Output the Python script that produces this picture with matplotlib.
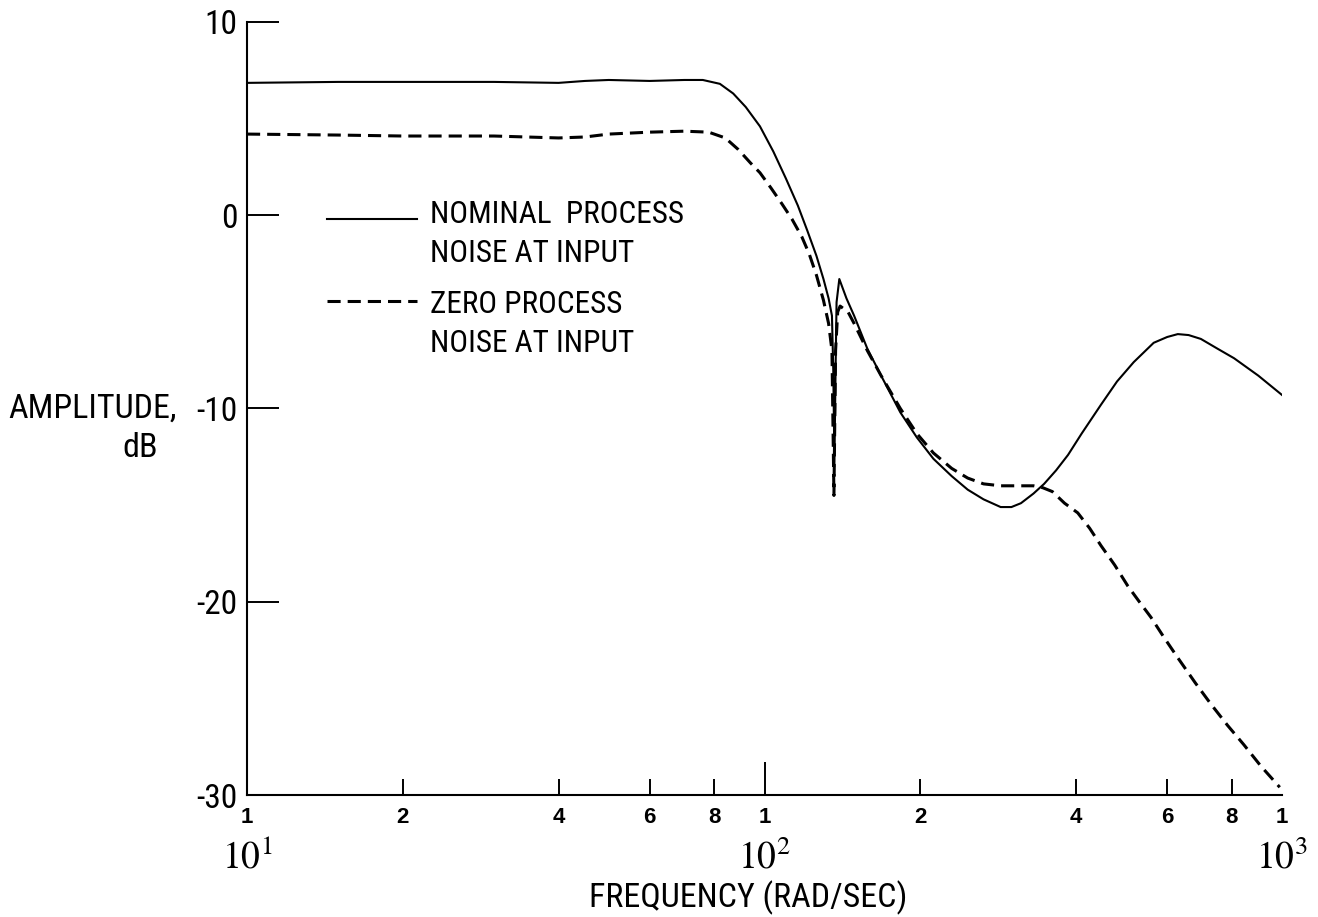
# ========================================
# Amplitude vs frequency, nominal / zero process noise at input
# ========================================

import matplotlib
matplotlib.use('Agg')
import matplotlib.pyplot as plt
import matplotlib.transforms as mtransforms
from matplotlib import font_manager
from matplotlib.lines import Line2D
from matplotlib.ticker import NullLocator

plt.rcParams['axes.unicode_minus'] = False
plt.rcParams['mathtext.fontset'] = 'stix'

# narrow typewriter-like face: take the first one installed, scale sizes by its width
CANDIDATES = [('Liberation Sans Narrow', 1.0), ('DejaVu Sans Condensed', 0.9),
              ('Roboto Condensed', 1.0), ('Roboto', 0.83)]
installed = {f.name for f in font_manager.fontManager.ttflist}
NARROW, K = next(((n, k) for n, k in CANDIDATES if n in installed), ('DejaVu Sans', 0.8))

# ========================
# data
# ========================
freq_nominal = [10, 15, 20, 30, 40, 45, 50, 60, 70, 76, 82, 87, 92, 98, 104, 110, 116, 121,
                126, 130, 133, 135, 135.8, 136.5, 137.2, 137.8, 139.5, 144, 149, 158, 168,
                183, 197, 212, 230, 247, 265, 286, 300, 313, 331, 347, 366, 386, 410, 447,
                480, 517, 565, 600, 629, 660, 697, 750, 808, 900, 1000]
amp_nominal = [6.85, 6.9, 6.9, 6.9, 6.85, 6.95, 7.0, 6.95, 7.0, 7.0, 6.8, 6.3, 5.6, 4.6, 3.3,
               1.9, 0.5, -0.8, -2.1, -3.3, -4.3, -5.2, -8.0, -12.8, -8.0, -4.5, -3.3, -4.3,
               -5.2, -6.9, -8.3, -10.2, -11.5, -12.6, -13.5, -14.2, -14.7, -15.1, -15.1,
               -14.9, -14.4, -13.9, -13.2, -12.4, -11.3, -9.8, -8.6, -7.6, -6.6, -6.3,
               -6.15, -6.2, -6.4, -6.9, -7.4, -8.3, -9.3]

freq_zero = [10, 15, 20, 30, 40, 45, 50, 60, 70, 78, 84, 89, 94, 98, 103, 108, 113, 118, 122,
             126, 130, 133, 135, 136.2, 137.2, 138.5, 140, 145, 149, 158, 168, 183, 197, 212,
             230, 247, 265, 286, 310, 331, 345, 360, 380, 403, 425, 447, 475, 504, 530, 558,
             590, 629, 680, 729, 785, 844, 910, 990]
amp_zero = [4.2, 4.15, 4.1, 4.1, 4.0, 4.05, 4.2, 4.3, 4.35, 4.3, 4.0, 3.4, 2.7, 2.2, 1.4, 0.6,
            -0.2, -1.1, -2.0, -3.1, -4.4, -5.6, -7.0, -14.5, -7.0, -5.0, -4.7, -5.0, -5.6,
            -7.0, -8.3, -10.0, -11.3, -12.3, -13.1, -13.6, -13.9, -14.0, -14.0, -14.0,
            -14.1, -14.3, -14.9, -15.4, -16.2, -17.1, -18.1, -19.2, -20.0, -20.8, -21.8,
            -22.9, -24.2, -25.3, -26.4, -27.4, -28.5, -29.6]

y_ticks = [10, 0, -10, -20, -30]
y_tick_labels = ['10', '0', '-10', '-20', '-30']
x_ticks = [10, 20, 40, 60, 80, 100, 200, 400, 600, 800, 1000]
x_tick_labels = ['1', '2', '4', '6', '8', '1', '2', '4', '6', '8', '1']
decades = [10, 100, 1000]
decade_labels = [r'$10^{1}$', r'$10^{2}$', r'$10^{3}$']

legend_rows = [
    ('NOMINAL  PROCESS', 'NOISE AT INPUT'),
    ('ZERO PROCESS', 'NOISE AT INPUT'),
]

# ========================
# figure
# ========================
fig = plt.figure(figsize=(13.18, 9.17), dpi=100)
ax = fig.add_axes([247 / 1318, 122 / 917, 1035 / 1318, 773 / 917])

ax.plot(freq_nominal, amp_nominal, color='black', lw=1.5)
ax.plot(freq_zero, amp_zero, color='black', lw=2.2, dashes=(4.3, 2.3))

ax.set_xscale('log')
ax.set_xlim(10, 1000)
ax.set_ylim(-30, 10)
ax.spines[['top', 'right']].set_visible(False)
for s in ['left', 'bottom']:
    ax.spines[s].set_linewidth(1.5)

ax.xaxis.set_minor_locator(NullLocator())
ax.set_xticks(x_ticks, x_tick_labels, fontfamily=['Liberation Sans', 'DejaVu Sans'],
              fontweight='bold', fontsize=16)
ax.set_yticks(y_ticks, y_tick_labels, fontfamily=NARROW, fontsize=24 * K)
ax.tick_params(axis='y', direction='in', length=23, width=1.4, pad=7)
ax.tick_params(axis='x', direction='in', length=11.5, width=1.4, pad=8.5)

# no tick mark at the axis ends, long one at 10^2
xt = ax.xaxis.get_major_ticks()
xt[0].tick1line.set_visible(False)
xt[-1].tick1line.set_visible(False)
xt[5].tick1line.set_markersize(23.8)

trans = mtransforms.blended_transform_factory(ax.transData, ax.transAxes)
for d, lab in zip(decades, decade_labels):
    ax.text(d, -0.0957, lab, transform=trans, ha='center', va='baseline',
            fontsize=27, clip_on=False)

fig.text(748 / 1318, 1 - 907 / 917, 'FREQUENCY (RAD/SEC)', ha='center', va='baseline',
         family=NARROW, fontsize=24.5 * K)
fig.text(8 / 1318, 1 - 418 / 917, 'AMPLITUDE,', ha='left', va='baseline',
         family=NARROW, fontsize=24.5 * K)
fig.text(140 / 1318, 1 - 457 / 917, 'dB', ha='center', va='baseline',
         family=NARROW, fontsize=24.5 * K)

# ========================
# legend (drawn by hand, like the original)
# ========================
styles = [dict(lw=1.5), dict(lw=2.2, dashes=(4.3, 2.3))]
line_y = [0.745, 0.639]
text_y = [(0.740, 0.6895), (0.6235, 0.5731)]
for (l1, l2), st, ly, (ty1, ty2) in zip(legend_rows, styles, line_y, text_y):
    ax.add_line(Line2D([0.0773, 0.164], [ly, ly], transform=ax.transAxes,
                       color='black', **st))
    ax.text(0.1768, ty1, l1, transform=ax.transAxes, va='baseline', family=NARROW,
            fontsize=22.5 * K)
    ax.text(0.1768, ty2, l2, transform=ax.transAxes, va='baseline', family=NARROW,
            fontsize=22.5 * K)

fig.savefig('out.png', dpi=100)
